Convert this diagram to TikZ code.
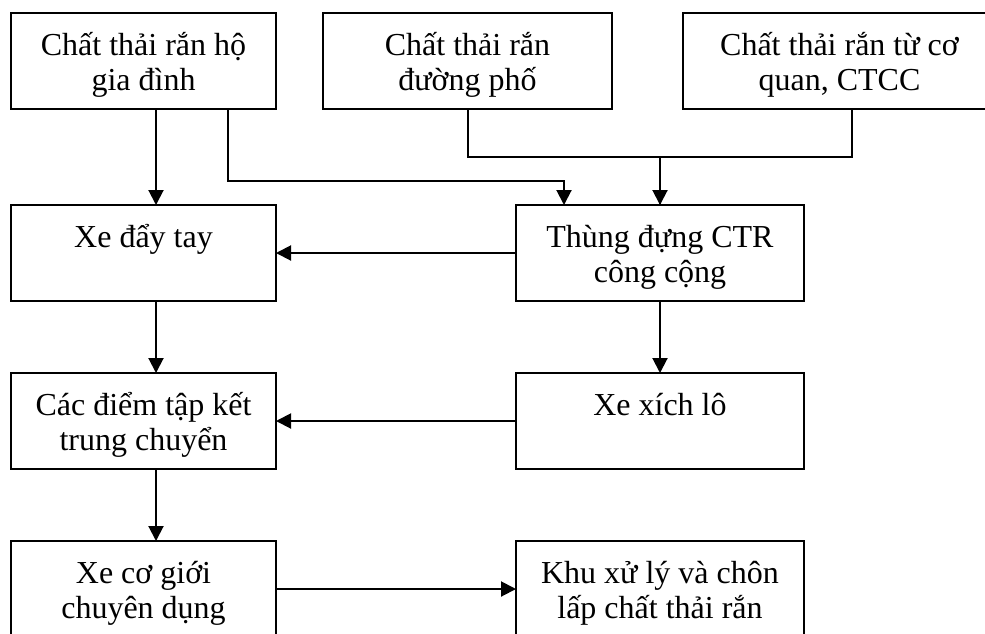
\documentclass[tikz,border=0pt]{standalone}
\usepackage{fontspec}
\setmainfont{Liberation Serif}
\usetikzlibrary{arrows.meta}
\newcommand{\boxtext}[2]{\parbox[c][96pt][t]{#1}{\centering\fontsize{32}{35}\selectfont\rule{0pt}{42pt}#2\par}}
\begin{document}
\begin{tikzpicture}[x=1pt,y=-1pt,
  flowbox/.style={draw,line width=1.9pt,inner sep=0pt,outer sep=0pt,anchor=north west,rectangle},
  arr/.style={line width=2pt,-{Triangle[length=15pt,width=15pt]}},
  plain/.style={line width=2pt}]
\useasboundingbox (0,0) rectangle (985,633);
\node[flowbox] (A) at (11,13) {\boxtext{265pt}{Chất thải rắn hộ\\gia đình}};
\node[flowbox] (B) at (323,13) {\boxtext{289pt}{Chất thải rắn\\đường phố}};
\node[flowbox] (C) at (683,13) {\boxtext{303pt}{\hspace*{10pt}Chất thải rắn từ cơ\\\hspace*{10pt}quan, CTCC}};
\node[flowbox] (D) at (11,205) {\boxtext{265pt}{Xe đẩy tay}};
\node[flowbox] (E) at (516,205) {\boxtext{288pt}{Thùng đựng CTR\\công cộng}};
\node[flowbox] (F) at (11,373) {\boxtext{265pt}{Các điểm tập kết\\trung chuyển}};
\node[flowbox] (G) at (516,373) {\boxtext{288pt}{Xe xích lô}};
\node[flowbox] (H) at (11,541) {\boxtext{265pt}{Xe cơ giới\\chuyên dụng}};
\node[flowbox] (I) at (516,541) {\boxtext{288pt}{Khu xử lý và chôn\\lấp chất thải rắn}};
% connectors
\draw[arr] ([xshift=145pt]A.south west) -- ([xshift=145pt]D.north west);
\draw[arr] ([xshift=217pt]A.south west) -- ++(0,72) -| ([xshift=48pt]E.north west);
\draw[plain] ([xshift=145pt]B.south west) -- ++(0,48) -| (E.north);
\draw[arr] ([xshift=169pt]C.south west) -- ++(0,48) -| (E.north);
\draw[arr] (E.west) -- (D.east);
\draw[arr] (E.south) -- (G.north);
\draw[arr] ([xshift=145pt]D.south west) -- ([xshift=145pt]F.north west);
\draw[arr] (G.west) -- (F.east);
\draw[arr] ([xshift=145pt]F.south west) -- ([xshift=145pt]H.north west);
\draw[arr] (H.east) -- (I.west);
\end{tikzpicture}
\end{document}
